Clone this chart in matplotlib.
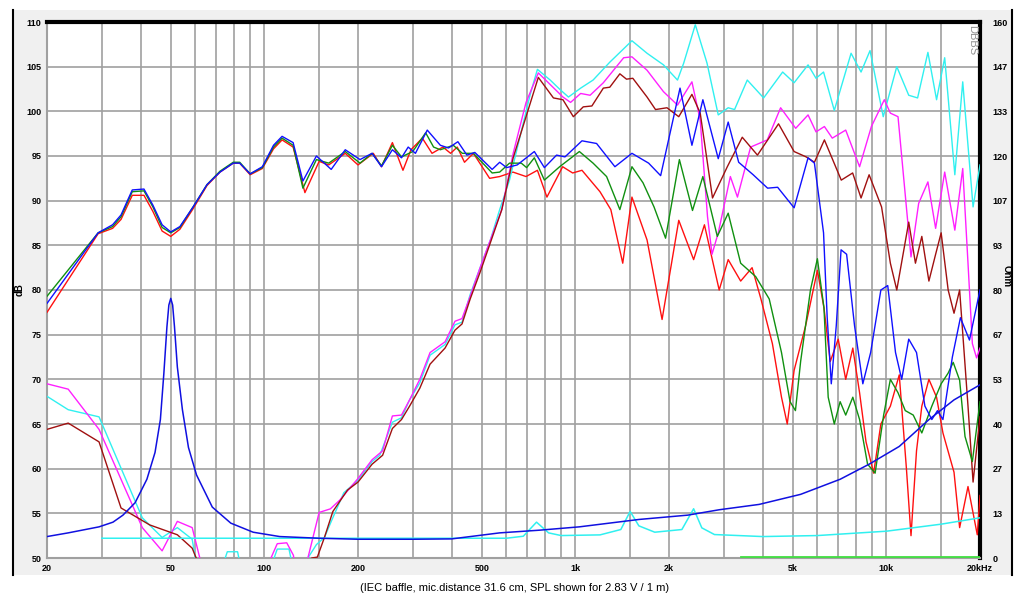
import matplotlib
matplotlib.use("Agg")
import matplotlib.pyplot as plt
from matplotlib.lines import Line2D
from matplotlib.patches import Rectangle
import numpy as np

# woofer SPL (dB) - blue / green / red
wb_f = [20, 29.2, 32.5, 34.6, 37.6, 41, 43.8, 46.9, 50, 53.5, 59, 65.4, 72, 79.4, 83.3, 90, 98.5, 107, 114, 123.7, 133,
        147, 164, 182, 203, 222, 238, 258, 276, 290, 306, 334, 368, 391, 419, 448, 475, 540, 571, 601, 650, 738, 795,
        870, 926, 1050, 1170, 1340, 1520, 1720, 1880, 2170, 2370, 2570, 2880, 3100, 3350, 3730, 4150, 4470, 5050, 5600,
        5870, 6280, 6450, 6650, 6900, 7150, 7450, 7900, 8400, 8900, 9600, 10100, 10700, 11200, 11800, 12500, 13300,
        14000, 14600, 15200, 16300, 17300, 18500, 20000]
wb_db = [78.5, 86.4, 87.3, 88.4, 91.2, 91.3, 89.5, 87.3, 86.5, 87.1, 89.3, 91.8, 93.2, 94.2, 94.2, 93.0, 93.8, 96.2, 97.2,
         96.5, 92.2, 95.0, 93.5, 95.7, 94.6, 95.3, 93.8, 95.7, 94.8, 96.0, 95.3, 97.9, 96.2, 95.9, 96.6, 95.1, 95.4, 93.5,
         94.3, 93.7, 94.0, 95.5, 93.7, 95.1, 94.9, 96.7, 96.4, 93.8, 95.3, 94.2, 92.8, 102.6, 96.2, 101.3, 94.7, 98.8,
         94.3, 92.9, 91.4, 91.5, 89.2, 94.8, 94.2, 86.4, 77, 69.5, 76, 84.5, 84, 76, 69.5, 73, 80, 80.5, 73, 70, 74.5,
         73, 67, 65.5, 66.5, 65.5, 72.5, 76.9, 74.4, 80]

wg_f = [20, 29.2, 32.5, 34.6, 37.6, 41, 43.8, 46.9, 50, 53.5, 59, 65.4, 72, 79.4, 83.3, 90, 98.5, 107, 114, 123.7, 133,
        147, 161, 182, 203, 222, 238, 258, 276, 300, 330, 350, 368, 405, 433, 470, 540, 571, 614, 670, 697, 738, 795,
        890, 1030, 1140, 1260, 1390, 1520, 1650, 1790, 1950, 2160, 2380, 2570, 2860, 3100, 3400, 3800, 4200, 4600,
        4900, 5100, 5300, 5700, 6000, 6300, 6500, 6800, 7100, 7400, 7800, 8200, 8700, 9200, 9800, 10300, 10900,
        11500, 12200, 13000, 14000, 15000, 15800, 16400, 17200, 17900, 18900, 20000]
wg_db = [79.3, 86.4, 87.1, 88.2, 91.0, 91.1, 89.3, 87.0, 86.4, 87.0, 89.3, 91.8, 93.3, 94.3, 94.3, 93.0, 93.7, 96.0, 97.0,
         96.2, 91.4, 94.6, 94.2, 95.5, 94.2, 95.3, 93.9, 96.2, 94.9, 95.5, 97.6, 96.0, 95.7, 96.2, 95.3, 95.3, 93.1,
         93.2, 94.2, 94.2, 93.7, 94.8, 92.3, 93.8, 95.5, 94.2, 92.7, 89.0, 93.8, 92.0, 89.3, 85.8, 94.6, 88.9, 92.7,
         86.0, 88.6, 83, 81.5, 79, 73, 67.5, 66.5, 72, 80, 83.5, 78, 68, 65, 67.5, 66, 68, 65.5, 60.5, 59.5, 66, 70,
         68.5, 66.5, 66, 64, 67, 69.5, 70.7, 71.9, 69.9, 63.6, 60.8, 67.5]

wr_f = [20, 29.2, 32.5, 34.6, 37.6, 41, 43.8, 46.9, 50, 53.5, 59, 65.4, 72, 79.4, 83.3, 90, 98.5, 107, 114, 123.7, 135,
        150, 161, 182, 200, 224, 238, 258, 279, 296, 322, 346, 375, 397, 417, 440, 470, 530, 571, 630, 694, 755, 810,
        910, 980, 1050, 1200, 1300, 1420, 1520, 1700, 1900, 2150, 2400, 2600, 2900, 3100, 3400, 3700, 3950, 4300,
        4600, 4800, 5050, 5500, 6000, 6300, 6600, 7000, 7400, 7800, 8200, 8600, 9100, 9600, 10300, 11000, 11600,
        12000, 12500, 13000, 13700, 14500, 15200, 16500, 17200, 18300, 19600, 20000]
wr_db = [77.5, 86.3, 86.9, 87.9, 90.6, 90.6, 88.8, 86.6, 86.0, 86.8, 89.1, 91.7, 93.2, 94.2, 94.2, 92.9, 93.6, 95.8, 96.8,
         96.0, 90.9, 94.4, 94.0, 95.3, 94.0, 95.3, 93.8, 96.5, 93.4, 95.7, 97.0, 95.3, 96.0, 95.3, 96.0, 94.3, 95.3,
         92.5, 92.7, 93.2, 92.7, 93.4, 90.4, 93.8, 93.1, 93.4, 91.0, 89.0, 83.0, 90.4, 85.6, 76.7, 87.8, 83.4, 87.3,
         80.0, 83.4, 81.0, 82.5, 79.0, 74.0, 68.0, 65.0, 71.0, 76.0, 82.2, 78.0, 72.0, 74.5, 70.0, 73.5, 68.5, 63.0,
         59.5, 65.0, 67.0, 70.5, 60.0, 52.5, 62.0, 67.0, 70.0, 68.0, 64.0, 59.6, 53.4, 58.0, 52.6, 57.0]

# tweeter SPL (dB) - cyan / magenta / dark red
tc_f = [20, 23.4, 29.4, 40.5, 46.9, 52.5, 58.6, 62, 68, 74, 76, 82, 85, 95, 105, 110, 120, 125, 130, 138, 147, 156, 165,
        180, 200, 222, 235, 258, 276, 293, 316, 341, 381, 410, 432, 459, 494, 533, 571, 614, 662, 717, 755, 830, 895,
        950, 1040, 1140, 1290, 1520, 1700, 1920, 2130, 2230, 2430, 2650, 2880, 3100, 3250, 3570, 4030, 4640, 5050,
        5600, 5940, 6280, 6800, 7700, 8290, 8860, 9770, 10800, 11800, 12600, 13600, 14500, 15400, 16600, 17600,
        19000, 20000]
tc_db = [68.1, 66.6, 65.8, 54.5, 52.3, 53.4, 52.1, 47, 44, 49.5, 50.7, 50.7, 48, 44, 49, 51, 51, 48, 45, 50, 51.5, 52.3,
         54.3, 57.3, 58.7, 60.8, 61.5, 65.2, 65.7, 67.7, 69.6, 72.7, 73.9, 76.1, 76.4, 79.5, 82.5, 85.6, 89, 92.3, 97,
         102, 104.7, 103.5, 102.4, 101.6, 102.6, 103.5, 105.5, 107.9, 106.5, 105.2, 103.5, 105.4, 109.7, 105.4, 99.6,
         100.4, 100.2, 103.5, 101.5, 104.4, 103.2, 105.2, 103.7, 104.4, 100.1, 106.5, 104.4, 106.8, 99.4, 105, 101.8,
         101.5, 106.6, 101.3, 106, 92.9, 103.3, 89.3, 94]

tm_f = [20, 23.4, 29.4, 40.5, 46.9, 52.5, 58.6, 62, 66, 100, 105, 110, 118, 124, 128, 134, 138, 150, 163, 175, 188, 200,
        222, 240, 258, 276, 293, 316, 341, 381, 410, 432, 459, 494, 533, 580, 631, 694, 760, 830, 912, 965, 1040,
        1115, 1230, 1430, 1520, 1700, 1920, 2130, 2370, 2520, 2660, 2750, 2880, 3150, 3320, 3660, 4140, 4570, 5110,
        5600, 5940, 6320, 6700, 7400, 8200, 8950, 9850, 10300, 10900, 12000, 12700, 13600, 14400, 15400, 16600,
        17600, 18300, 18900, 19500, 20000]
tm_db = [69.5, 68.9, 64.4, 53.4, 50.8, 54.1, 53.4, 50, 45, 44, 50, 51.6, 51.7, 50.3, 46, 46, 50, 55.1, 55.5, 56.5, 57.8,
         58.9, 61, 62, 65.9, 66, 67.7, 70, 73, 74.2, 76.5, 76.8, 79.3, 82.5, 85.6, 89, 95.3, 101, 104.3, 103, 101.6, 101,
         102, 101.8, 103.2, 106, 106.1, 104.6, 102.2, 100.7, 103.3, 99, 88.2, 84, 86.4, 92.7, 90.4, 96, 96.8, 100.4,
         98.1, 99.6, 97.7, 98.3, 97, 97.9, 93.8, 98.3, 101.3, 99.8, 99.4, 83.7, 89.7, 92.1, 86.9, 93.2, 86.7, 93.6, 83,
         74, 72.4, 73.5]

td_f = [20, 23.4, 29.4, 34.6, 42.8, 52.5, 58.6, 62, 66, 140, 142, 148, 156, 166, 185, 200, 222, 240, 258, 276, 293, 316,
        341, 381, 410, 432, 459, 494, 533, 580, 631, 694, 760, 850, 912, 985, 1060, 1130, 1230, 1290, 1390, 1460,
        1530, 1700, 1810, 1970, 2150, 2370, 2520, 2760, 3080, 3440, 3850, 4500, 5050, 5520, 5870, 6320, 7160, 7790,
        8290, 8800, 9650, 10300, 10800, 11800, 12400, 13000, 13700, 14400, 15000, 15800, 16500, 17200, 18300, 19000,
        20000]
td_db = [64.4, 65.1, 63.0, 55.6, 53.7, 52.6, 51.1, 49, 44, 44, 50, 50.1, 52.3, 55.2, 57.6, 58.5, 60.5, 61.5, 64.5, 65.5,
         67, 69, 71.7, 73.5, 75.5, 76.2, 79, 82, 85.3, 89, 94.8, 99.4, 103.8, 101.5, 101.3, 99.4, 100.5, 100.6, 102.6,
         102.7, 104.2, 103.6, 103.7, 101.6, 100.2, 100.4, 99.4, 101.9, 99.8, 90.3, 93.8, 97.1, 95.1, 98.6, 95.5, 94.9,
         94.3, 96.8, 92.3, 93.1, 90.3, 92.9, 89.3, 83, 80, 87.6, 83, 86, 81, 84, 86.4, 80, 77.4, 80, 67, 58.5, 65.8]

# impedance (Ohm)
zw_f = [20, 23.4, 29.4, 32.6, 35.1, 38.4, 41.9, 44.5, 46.3, 47.5, 48.6, 49.3, 50, 50.7, 51.4, 52.5, 54.5, 57, 60.5, 68,
        78, 92, 112, 150, 200, 300, 400, 571, 766, 1030, 1600, 2300, 2900, 3900, 5300, 7100, 8800, 11000, 13700,
        16500, 20000]
zw_ohm = [6.4, 7.5, 9.3, 10.7, 12.8, 16.5, 23.5, 31.5, 41.3, 55, 69, 75.5, 77.5, 75.5, 69, 57, 44.3, 33, 24.8, 15.2,
          10.4, 7.7, 6.4, 5.9, 5.6, 5.6, 5.7, 7.5, 8.3, 9.3, 11.5, 12.8, 14.4, 16, 19, 23.5, 28, 33.3, 41.3, 47.2, 51.7]

zt_f = [30, 600, 680, 750, 820, 900, 1200, 1400, 1500, 1600, 1800, 2200, 2400, 2550, 2800, 4000, 6000, 10000, 15000,
        20000]
zt_ohm = [5.9, 5.9, 6.5, 10.7, 7.5, 6.7, 6.9, 8.5, 13.9, 9.6, 7.7, 8.5, 14.7, 9, 7, 6.4, 6.7, 8, 10.1, 12]

zg_f = [3400, 20000]
zg_ohm = [0.3, 0.3]

db_ticks = [50, 55, 60, 65, 70, 75, 80, 85, 90, 95, 100, 105, 110]
ohm_labels = ["0", "13", "27", "40", "53", "67", "80", "93", "107", "120", "133", "147", "160"]
grid_f = [20, 30, 40, 50, 60, 70, 80, 90, 100, 150, 200, 300, 400, 500, 600, 700, 800, 900,
          1000, 1500, 2000, 3000, 4000, 5000, 6000, 7000, 8000, 9000, 10000, 15000, 20000]
lab_f = [20, 50, 100, 200, 500, 1000, 2000, 5000, 10000, 20000]
lab_txt = ["20", "50", "100", "200", "500", "1k", "2k", "5k", "10k", "20kHz"]

W, H = 1019, 595
fig = plt.figure(figsize=(W / 100, H / 100), dpi=100)
fig.patch.set_facecolor("white")
fig.patches.append(Rectangle((13 / W, 1 - 575 / H), 999 / W, 565 / H, transform=fig.transFigure,
                             facecolor="#f0f0f0", edgecolor="none", zorder=-5))
for xp in (13, 1012):
    fig.lines.append(Line2D([xp / W, xp / W], [1 - 575 / H, 1 - 10 / H], transform=fig.transFigure,
                            color="black", lw=1.5))

ax = fig.add_axes([47 / W, 1 - 558 / H, 933 / W, 536 / H])
ax.set_facecolor("white")
ax.set_xscale("log")
ax.set_xlim(20, 20000)
ax.set_ylim(50, 110)

gc = "#a0a0a0"
for f in grid_f:
    ax.axvline(f, color=gc, lw=1.2, zorder=0)
for d in db_ticks:
    ax.axhline(d, color=gc, lw=1.2, zorder=0)

lw = 1.0
ax.plot(wb_f, wb_db, color="#1010ff", lw=lw, zorder=5)
ax.plot(wg_f, wg_db, color="#109010", lw=lw, zorder=4)
ax.plot(wr_f, wr_db, color="#ff1010", lw=lw, zorder=3)
ax.plot(tc_f, tc_db, color="#30f0f0", lw=lw, zorder=3)
ax.plot(tm_f, tm_db, color="#ff20ff", lw=lw, zorder=3)
ax.plot(td_f, td_db, color="#a01010", lw=lw, zorder=3)

ax.set_yticks(db_ticks)
ax.set_yticklabels([str(d) for d in db_ticks])
ax.set_xticks(lab_f)
ax.set_xticklabels(lab_txt)
ax.minorticks_off()
ax.tick_params(axis="both", length=0, labelsize=6.5, pad=4)
for t in ax.get_xticklabels() + ax.get_yticklabels():
    t.set_fontweight("bold")
    t.set_family("Liberation Sans")

for s in ("left", "bottom"):
    ax.spines[s].set_color(gc)
    ax.spines[s].set_linewidth(1.5)
for s in ("top", "right"):
    ax.spines[s].set_color("black")
    ax.spines[s].set_linewidth(3)

ax2 = ax.twinx()
ax2.set_ylim(0, 160)
ax2.plot(zw_f, zw_ohm, color="#1010e0", lw=1.1, zorder=5)
ax2.plot(zt_f, zt_ohm, color="#30f0f0", lw=1.1, zorder=4)
ax2.plot(zg_f, zg_ohm, color="#40e040", lw=1.3, zorder=4)
ax2.set_yticks(np.linspace(0, 160, 13))
ax2.set_yticklabels(ohm_labels)
ax2.tick_params(axis="y", length=0, labelsize=6.5, pad=9)
for t in ax2.get_yticklabels():
    t.set_fontweight("bold")
    t.set_family("Liberation Sans")
for s in ax2.spines.values():
    s.set_visible(False)

fig.text(20 / W, 1 - 290 / H, "dB", rotation=90, ha="center", va="center", fontsize=7, fontweight="bold",
         family="Liberation Sans")
fig.text(1007 / W, 1 - 276 / H, "Ohm", rotation=-90, ha="center", va="center", fontsize=7, fontweight="bold",
         family="Liberation Sans")
ax.text(0.997, 0.995, "DBBS", transform=ax.transAxes, rotation=-90, ha="right", va="top", fontsize=8,
        color="#909090", family="Liberation Sans")
fig.text(515 / W, 1 - 588 / H, "(IEC baffle, mic.distance 31.6 cm, SPL shown for 2.83 V / 1 m)",
         ha="center", va="center", fontsize=8, family="Liberation Sans")

fig.savefig("out.png", dpi=100)
